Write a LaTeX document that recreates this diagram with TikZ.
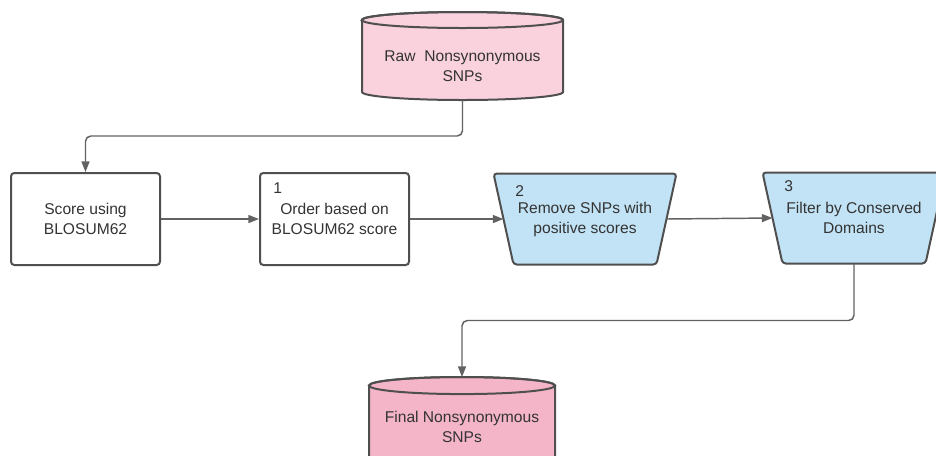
\documentclass[tikz,border=0pt]{standalone}
\usepackage{fontspec}
\setmainfont{Liberation Sans}
\usetikzlibrary{arrows.meta,backgrounds}
\definecolor{rawpink}{HTML}{F9D2DE}
\definecolor{finalpink}{HTML}{F4B5C9}
\definecolor{stepblue}{HTML}{C2E3F5}
\definecolor{edgegray}{HTML}{4F4F4F}
\definecolor{conngray}{HTML}{626262}
\definecolor{txtgray}{HTML}{333333}
\tikzset{
  shapeline/.style={draw=edgegray, line width=1.5pt},
  stepbox/.style={shapeline, rectangle, rounded corners=2.5pt, fill=white,
    minimum width=149*0.75pt, minimum height=92*0.75pt, align=center},
  filterbox/.style={rectangle, outer sep=0pt, align=center,
    minimum width=183*0.75pt, minimum height=91*0.75pt},
  db/.style={rectangle, outer sep=0pt},
  dbtext/.style={align=center, inner sep=0pt},
  steplabel/.style={inner sep=0pt, anchor=base west},
  conn/.style={draw=conngray, line width=1.1pt, rounded corners=4pt,
    -{Triangle[length=8pt,width=6pt]}},
}
\begin{document}
\begin{tikzpicture}[x=0.75pt, y=-0.75pt,
  every node/.append style={font=\fontsize{11.7}{15}\selectfont, text=txtgray}]
\useasboundingbox (0,0) rectangle (936,455);
% Databases
\node[db, minimum width=201*0.75pt, minimum height=88*0.75pt] (raw) at (462.5,56) {};
\node[dbtext] (rawtext) at (462.5,66) {Raw\ \ Nonsynonymous\\SNPs};
\node[db, minimum width=186*0.75pt, minimum height=101*0.75pt] (final) at (462,427.5) {};
\node[dbtext] (finaltext) at (462,427) {Final Nonsynonymous\\SNPs};
% Steps
\node[stepbox] (score) at (85.5,219) {Score using\\BLOSUM62};
\node[stepbox] (order) at (334.5,219) {Order based on\\BLOSUM62 score};
\node[filterbox] (remove) at (585,219) {Remove SNPs with\\positive scores};
\node[filterbox] (filter) at (854,218) {Filter by Conserved\\Domains};
% Step numbers
\node[steplabel] (n1) at ([shift={(14,21.5)}]order.north west) {1};
\node[steplabel] (n2) at ([shift={(-70,22.5)}]remove.north) {2};
\node[steplabel] (n3) at ([shift={(-70,18.5)}]filter.north) {3};
% Shapes behind the texts
\begin{pgfonlayer}{background}
\draw[shapeline, fill=rawpink] ([yshift=-6pt]raw.north west) -- ([yshift=6pt]raw.south west)
  arc[start angle=180, end angle=360, x radius=75.4pt, y radius=6pt]
  -- ([yshift=-6pt]raw.north east)
  arc[start angle=0, end angle=180, x radius=75.4pt, y radius=6pt] -- cycle;
\draw[shapeline] ([yshift=-6pt]raw.north) ellipse [x radius=75.4pt, y radius=6pt];
\draw[shapeline, fill=finalpink] ([yshift=-6.4pt]final.north west) -- ([yshift=6.4pt]final.south west)
  arc[start angle=180, end angle=360, x radius=69.75pt, y radius=6.4pt]
  -- ([yshift=-6.4pt]final.north east)
  arc[start angle=0, end angle=180, x radius=69.75pt, y radius=6.4pt] -- cycle;
\draw[shapeline] ([yshift=-6.4pt]final.north) ellipse [x radius=69.75pt, y radius=6.4pt];
\foreach \t in {remove,filter}
  \draw[shapeline, fill=stepblue, rounded corners=2.5pt] (\t.north west) -- (\t.north east)
    -- ([xshift=-15pt]\t.south east) -- ([xshift=15pt]\t.south west) -- cycle;
\end{pgfonlayer}
% Connectors
\draw[conn] (raw.south) -- ++(0,36) -| (score.north);
\draw[conn] (score) -- (order);
\draw[conn] (order.east) -- ([xshift=7.5pt]remove.west);
\draw[conn] ([xshift=-7.5pt]remove.east) -- ([xshift=7.5pt]filter.west);
\draw[conn] (filter.south) -- ++(0,57) -| (final.north);
\end{tikzpicture}
\end{document}
